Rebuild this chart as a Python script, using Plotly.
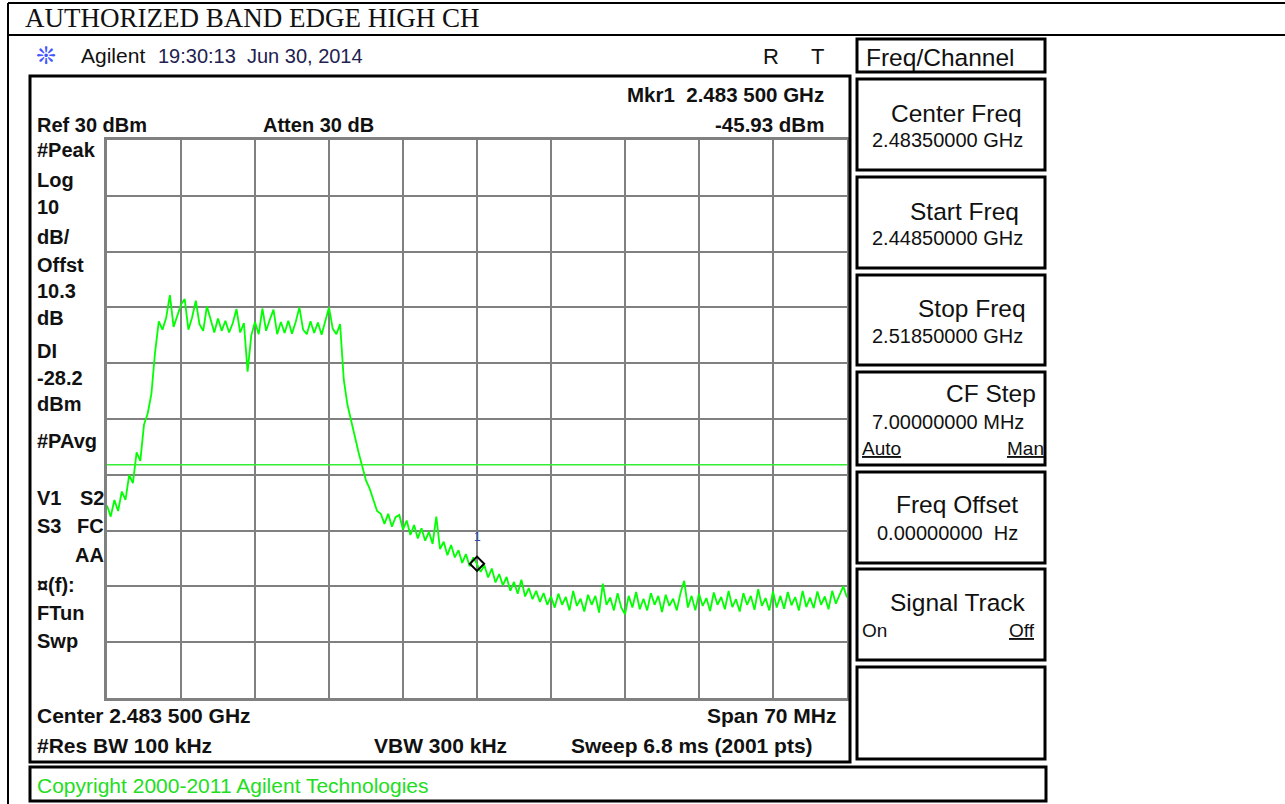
import numpy as np
import plotly.graph_objects as go

# ---------------- data ----------------
start_mhz = 2448.5
stop_mhz = 2518.5
ref_dbm = 30
db_per_div = 10
display_line_dbm = -28.2
marker_mhz = 2483.5
marker_dbm = -45.93

level_dbm = [
    -35.5, -37.5, -34.5, -36.5, -33.0, -34.5, -30.0, -31.5, -26.0, -27.5,
    -21.0, -19.0, -15.5, -8.0, -2.5, -4.0, -1.8, 2.2, -3.5, -1.5,
    0.5, 1.5, -4.0, -1.8, 1.2, -3.0, -4.2, 0.2, -2.2, -4.5,
    -2.0, -4.2, -2.4, -4.5, -2.8, -0.3, -4.5, -2.8, -11.5, -5.0,
    -2.6, -4.8, -0.2, -4.2, -2.2, -0.4, -4.8, -2.6, -4.6, -2.4,
    -4.7, -2.6, 0.0, -4.0, -4.8, -2.5, -4.6, -2.7, -4.9, -2.4,
    0.0, -3.8, -4.8, -3.0, -13.0, -17.5, -20.5, -23.0, -26.0, -28.5,
    -31.0, -32.5, -34.5, -36.5, -37.0, -38.8, -37.0, -39.3, -37.6, -37.2,
    -39.8, -38.2, -40.8, -39.0, -41.4, -39.6, -41.8, -40.2, -42.4, -37.5,
    -43.3, -42.0, -44.4, -42.6, -44.8, -43.5, -45.8, -44.2, -46.4, -44.8,
    -46.0, -47.4, -46.2, -48.4, -46.8, -49.3, -47.8, -49.8, -48.3, -50.8,
    -49.2, -51.3, -48.8, -51.8, -50.3, -52.3, -50.8, -52.8, -51.2, -53.3,
    -51.8, -53.8, -51.3, -53.3, -51.9, -54.3, -50.8, -53.5, -52.2, -54.5,
    -51.5, -53.3, -51.7, -54.7, -49.5, -53.3, -52.0, -54.3, -51.2, -53.8,
    -55.0, -51.7, -53.8, -51.0, -54.1, -52.2, -54.3, -51.2, -53.3, -51.7,
    -54.6, -51.5, -53.5, -52.2, -54.3, -51.2, -49.0, -53.8, -51.7, -54.3,
    -51.3, -53.5, -52.1, -54.4, -51.1, -53.3, -51.9, -54.1, -50.8, -53.7,
    -52.3, -54.5, -51.2, -53.3, -51.7, -54.2, -50.5, -53.5, -52.1, -54.3,
    -50.9, -53.8, -51.7, -54.0, -51.0, -53.4, -51.9, -54.3, -50.8, -53.7,
    -52.0, -53.9, -50.9, -53.3, -51.8, -54.1, -50.8, -53.1, -51.5, -50.0,
    -52.0,
]
freq_mhz = np.linspace(start_mhz, stop_mhz, len(level_dbm))

# ---------------- layout helpers ----------------
W, H = 1285, 804
SANS = "Liberation Sans"


def X(px):
    return px / W


def Y(py):
    return 1 - py / H


annotations = []


def txt(x, baseline, text, size=20, bold=False, anchor="left",
        color="#111111", family=SANS):
    annotations.append(dict(
        x=X(x), y=Y(baseline - 0.36 * size), xref="paper", yref="paper",
        xanchor=anchor, yanchor="middle", text=text, showarrow=False,
        font=dict(size=size, color=color, family=family,
                  weight="bold" if bold else "normal"),
        borderpad=0,
    ))


shapes = []


def rect(x0, y0, x1, y1, width=3, color="black"):
    shapes.append(dict(type="rect", xref="paper", yref="paper",
                       x0=X(x0), x1=X(x1), y0=Y(y1), y1=Y(y0),
                       line=dict(color=color, width=width),
                       fillcolor="rgba(0,0,0,0)", layer="above"))


def hline(x0, x1, y, width=2, color="black"):
    shapes.append(dict(type="line", xref="paper", yref="paper",
                       x0=X(x0), x1=X(x1), y0=Y(y), y1=Y(y),
                       line=dict(color=color, width=width)))


def vline(x, y0, y1, width=2, color="black"):
    shapes.append(dict(type="line", xref="paper", yref="paper",
                       x0=X(x), x1=X(x), y0=Y(y0), y1=Y(y1),
                       line=dict(color=color, width=width)))


# outer document table
hline(8, W, 3, 2)
hline(8, W, 35, 2)
vline(8, 3, H, 2)
txt(24, 28, "AUTHORIZED BAND EDGE HIGH CH", size=27, family="Liberation Serif")

# analyzer header
txt(35, 65, "❊", size=24, color="#4455ff", family="DejaVu Sans")
txt(80, 63, "Agilent", size=21)
txt(157, 63, "19:30:13  Jun 30, 2014", size=20, color="#222250")
txt(762, 64, "R", size=22)
txt(810, 64, "T", size=22)

# main panel
rect(30, 76, 850, 762, 3)
txt(36, 132, "Ref 30 dBm", 20, True)
txt(262, 132, "Atten 30 dB", 20, True)
txt(825, 102, "Mkr1  2.483 500 GHz", 20.5, True, "right")
txt(825, 132, "-45.93 dBm", 20.5, True, "right")

left_labels = [("#Peak", 157), ("Log", 187), ("10", 214), ("dB/", 244),
               ("Offst", 272), ("10.3", 298), ("dB", 325), ("DI", 358),
               ("-28.2", 385), ("dBm", 411), ("#PAvg", 448), ("V1", 505),
               ("S3", 533), ("¤(f):", 592), ("FTun", 620), ("Swp", 648)]
for label, base in left_labels:
    txt(36, base, label, 20, True)
for label, base in [("S2", 505), ("FC", 533), ("AA", 562)]:
    txt(105, base, label, 20, True, "right")

txt(36, 723, "Center 2.483 500 GHz", 21, True)
txt(838, 723, "Span 70 MHz", 21, True, "right")
txt(36, 753, "#Res BW 100 kHz", 21, True)
txt(373, 753, "VBW 300 kHz", 21, True)
txt(814, 753, "Sweep 6.8 ms (2001 pts)", 21, True, "right")

# copyright bar
rect(30, 767, 1046, 801, 3)
txt(36, 793, "Copyright 2000-2011 Agilent Technologies", 21, color="#22dd22")

# softkey panel
rect(857, 39, 1045, 72, 3)
txt(865, 66, "Freq/Channel", 24.5)

keys = [
    (79, 170, "Center Freq", 1023, 122, "2.48350000 GHz", 871, 147),
    (177, 268, "Start Freq", 1020, 220, "2.44850000 GHz", 871, 245),
    (275, 365, "Stop Freq", 1027, 317, "2.51850000 GHz", 871, 343),
    (372, 465, "CF Step", 1037, 402, "7.00000000 MHz", 871, 429),
    (472, 563, "Freq Offset", 1019, 513, "0.00000000  Hz", 876, 540),
    (569, 660, "Signal Track", 1027, 611, "", 0, 0),
    (667, 759, "", 0, 0, "", 0, 0),
]
for top, bot, title, tx, tb, val, vx, vb in keys:
    rect(857, top, 1045, bot, 3)
    if title:
        txt(tx, tb, title, 24.5, anchor="right")
    if val:
        txt(vx, vb, val, 20)
txt(861, 455, "<u>Auto</u>", 19)
txt(1045, 455, "<u>Man</u>", 19, anchor="right")
txt(861, 637, "On", 19)
txt(1036, 637, "<u>Off</u>", 19, anchor="right")

# marker label
annotations.append(dict(x=marker_mhz, y=marker_dbm, xref="x", yref="y",
                        text="1", showarrow=False, yshift=27,
                        font=dict(size=12, color="#3344aa", family=SANS)))

# ---------------- figure ----------------
fig = go.Figure()
fig.add_trace(go.Scatter(x=freq_mhz, y=level_dbm, mode="lines",
                         line=dict(color="#00ff00", width=1.8),
                         hoverinfo="skip", showlegend=False))
fig.add_trace(go.Scatter(x=[marker_mhz], y=[marker_dbm], mode="markers",
                         marker=dict(symbol="diamond-open", size=11,
                                     color="black", line=dict(width=2)),
                         hoverinfo="skip", showlegend=False))

shapes.append(dict(type="line", xref="x", yref="y",
                   x0=start_mhz, x1=stop_mhz,
                   y0=display_line_dbm, y1=display_line_dbm,
                   line=dict(color="#33ee33", width=1.5)))

fig.update_layout(
    width=W, height=H, margin=dict(l=0, r=0, t=0, b=0),
    paper_bgcolor="white", plot_bgcolor="white",
    showlegend=False, shapes=shapes, annotations=annotations,
    xaxis=dict(domain=[X(107), X(847)], range=[start_mhz, stop_mhz],
               tick0=start_mhz, dtick=(stop_mhz - start_mhz) / 10,
               showgrid=True, gridcolor="#808080", gridwidth=2,
               showticklabels=False, ticks="", zeroline=False,
               showline=True, linecolor="#808080", linewidth=3, mirror=True,
               fixedrange=True),
    yaxis=dict(domain=[Y(698), Y(140)],
               range=[ref_dbm - 10 * db_per_div, ref_dbm],
               tick0=ref_dbm, dtick=db_per_div,
               showgrid=True, gridcolor="#808080", gridwidth=2,
               showticklabels=False, ticks="", zeroline=False,
               showline=True, linecolor="#808080", linewidth=3, mirror=True,
               fixedrange=True),
)

fig.write_html(
    "out.html",
    config={"displayModeBar": False},
    post_script="document.body.style.margin='0px';"
                "document.body.style.overflow='hidden';",
)
